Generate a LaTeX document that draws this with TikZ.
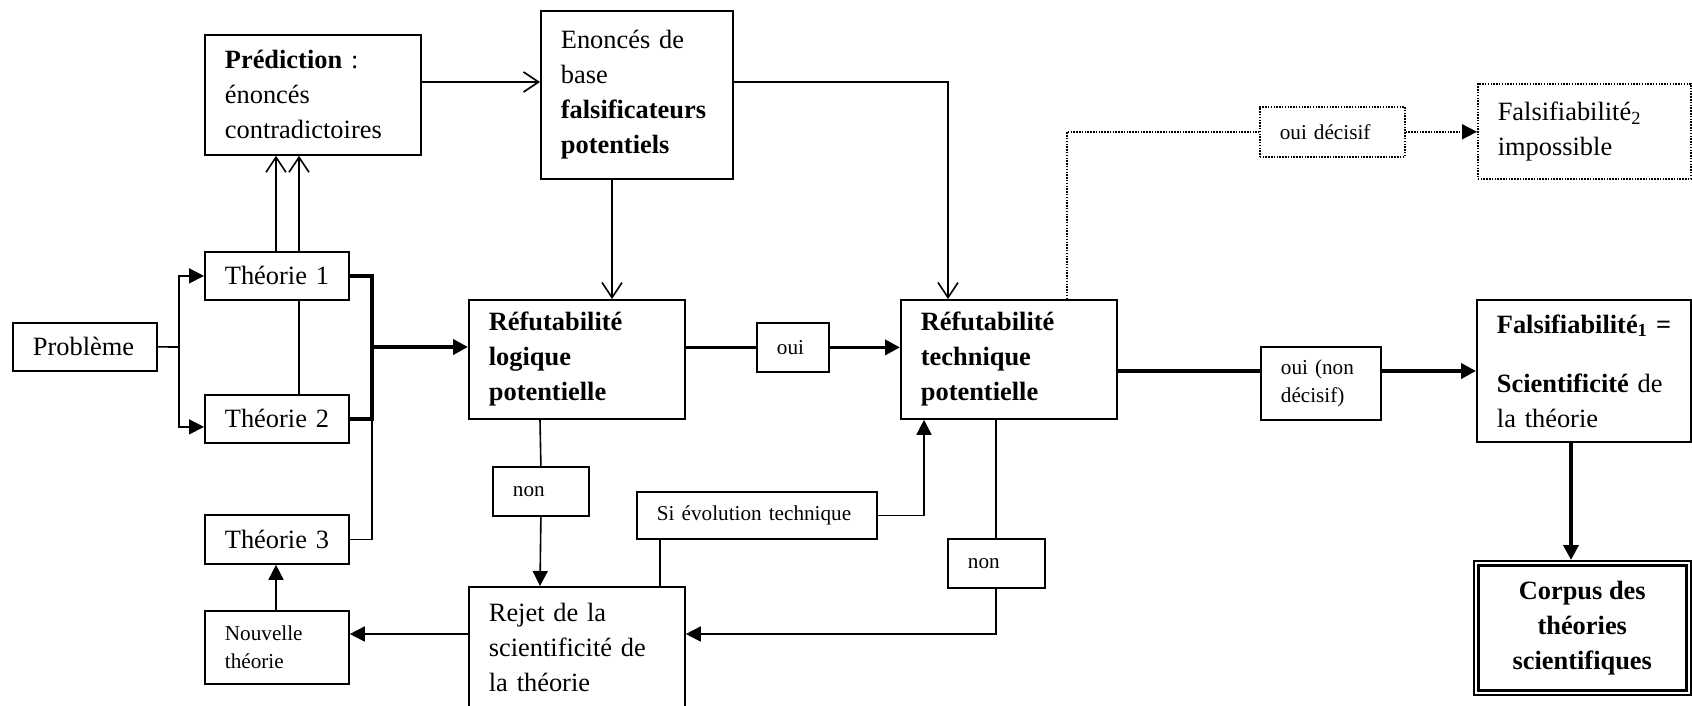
\documentclass[tikz,border=0pt]{standalone}
\usepackage{fontspec}
\setmainfont{Liberation Serif}[Ligatures=NoCommon]
\usetikzlibrary{arrows.meta}
\begin{document}
\begin{tikzpicture}[x=1pt,y=-1pt,
  big/.style={font=\fontsize{26.4}{35}\selectfont},
  small/.style={font=\fontsize{21.2}{28}\selectfont},
  bx/.style={draw, line width=1.8pt, align=left, inner xsep=20pt, inner ysep=0pt, anchor=north west},
  dotbx/.style={bx, line width=1.6pt, dash pattern=on 1.5pt off 1.3pt},
  ln/.style={line width=1.6pt},
  thk/.style={line width=3.8pt},
  dotln/.style={line width=1.6pt, dash pattern=on 1.5pt off 1.3pt},
  arr/.style={-{Triangle[length=15pt,width=15pt]}},
  oarr/.style={-{Straight Barb[length=15pt,width=20pt]}},
]
\useasboundingbox (0,0) rectangle (1692,706);

% boxes
\node[bx,big,text width=104pt,minimum height=48pt] (prob) at (12,322) {Problème};
\node[bx,big,text width=176pt,minimum height=120pt] (pred) at (204,34) {\textbf{Prédiction} :\\énoncés\\contradictoires};
\node[bx,big,text width=104pt,minimum height=48pt] (t1) at (204,251) {\mbox{Théorie 1}};
\node[bx,big,text width=104pt,minimum height=48pt] (t2) at (204,394) {\mbox{Théorie 2}};
\node[bx,big,text width=104pt,minimum height=49pt] (t3) at (204,514) {\mbox{Théorie 3}};
\node[bx,small,text width=104pt,minimum height=73pt] (nouv) at (204,610) {Nouvelle\\théorie};
\node[bx,big,text width=152pt,minimum height=168pt] (enon) at (540,10) {Enoncés de\\base\\\textbf{falsificateurs}\\\textbf{potentiels}};
\node[bx,big,text width=176pt,minimum height=119pt] (rlog) at (468,299) {\textbf{Réfutabilité}\\\textbf{logique}\\\textbf{potentielle}};
\node[bx,small,text width=32pt,minimum height=49pt] (oui) at (756,322) {oui};
\node[bx,big,text width=176pt,minimum height=119pt] (rtech) at (900,299) {\textbf{Réfutabilité}\\\textbf{technique}\\\textbf{potentielle}};
\node[bx,small,text width=56pt,minimum height=49pt] (non1) at (492,466) {non};
\node[bx,small,text width=200pt,minimum height=47pt] (siev) at (636,491) {\mbox{Si évolution technique}};
\node[bx,small,text width=57pt,minimum height=49pt] (non2) at (947,538) {non};
\node[bx,big,text width=176pt,minimum height=122pt] (rejet) at (468,586) {Rejet de la\\\mbox{scientificité de}\\la théorie};
\node[dotbx,small,text width=105pt,minimum height=50pt] (ouidec) at (1259,106) {\mbox{oui décisif}};
\node[dotbx,big,text width=173pt,minimum height=95pt] (f2) at (1477,83) {Falsifiabilité\textsubscript{2}\\impossible};
\node[bx,small,text width=80pt,minimum height=73pt] (ouind) at (1260,346) {\mbox{oui (non}\\décisif)};
\node[bx,big,text width=174pt,minimum height=142pt] (f1) at (1476,299) {\mbox{\textbf{Falsifiabilité\textsubscript{1} =}}\\[24pt]\mbox{\textbf{Scientificité} de}\\la théorie};
\node[draw,line width=1.5pt,big,align=center,inner sep=0pt,minimum width=217pt,minimum height=134pt,anchor=north west] (corpus) at (1473,560) {\textbf{Corpus des}\\\textbf{théories}\\\textbf{scientifiques}};
\draw[line width=3pt] ([shift={(5,5)}]corpus.north west) rectangle ([shift={(-5,-5)}]corpus.south east);

% helper coordinates
\coordinate (bp) at (179,347);
\coordinate (bk) at (372,347);
\coordinate (xa) at (276,0);
\coordinate (xb) at (299,0);
\coordinate (xc) at (612,0);
\coordinate (xd) at (948,0);
\coordinate (xe) at (1067,0);
\coordinate (xf) at (540,0);
\coordinate (xg) at (660,0);
\coordinate (xh) at (924,0);
\coordinate (xi) at (996,0);
\coordinate (fx) at (1571,0);
\coordinate (ya) at (0,82);
\coordinate (yb) at (0,371);
\coordinate (yc) at (0,634);

% connectors
\draw[ln] (prob.east) -- (bp);
\draw[ln,arr] (bp) |- (t1.west);
\draw[ln,arr] (bp) |- ([yshift=-8pt]t2.west);
\draw[ln,oarr] (xa |- t1.north) -- (xa |- pred.south);
\draw[ln,oarr] (xb |- t1.north) -- (xb |- pred.south);
\draw[ln] (xb |- t1.south) -- (xb |- t2.north);
\draw[thk] (t1.east) -| (bk |- t2.east) -- (t2.east);
\draw[thk,arr] (bk) -- (bk -| rlog.west);
\draw[ln] (bk |- t2.east) |- (t3.east);
\draw[ln,arr] (xa |- nouv.north) -- (xa |- t3.south);

\draw[ln,oarr] (ya -| pred.east) -- (ya -| enon.west);
\draw[ln,oarr] (xc |- enon.south) -- (xc |- rlog.north);
\draw[ln,oarr] (ya -| enon.east) -| (xd |- rtech.north);

\draw[thk] (oui.west -| rlog.east) -- (oui.west);
\draw[thk,arr] (oui.east) -- (oui.east -| rtech.west);
\draw[thk] (yb -| rtech.east) -- (yb -| ouind.west);
\draw[thk,arr] (yb -| ouind.east) -- (yb -| f1.west);
\draw[thk,arr] (fx |- f1.south) -- (fx |- corpus.north);

\draw[dotln] (xe |- rtech.north) |- (ouidec.west);
\draw[dotln,arr] (ouidec.east) -- (ouidec.east -| f2.west);

\draw[ln] (xf |- rlog.south) -- (non1.north);
\draw[ln,arr] (non1.south) -- (xf |- rejet.north);
\draw[ln] (xg |- siev.south) -- (xg |- rejet.north);
\draw[ln,arr] (siev.east) -| (xh |- rtech.south);
\draw[ln] (xi |- rtech.south) -- (xi |- non2.north);
\draw[ln,arr] (xi |- non2.south) |- (yc -| rejet.east);
\draw[ln,arr] (yc -| rejet.west) -- (yc -| nouv.east);
\end{tikzpicture}
\end{document}
